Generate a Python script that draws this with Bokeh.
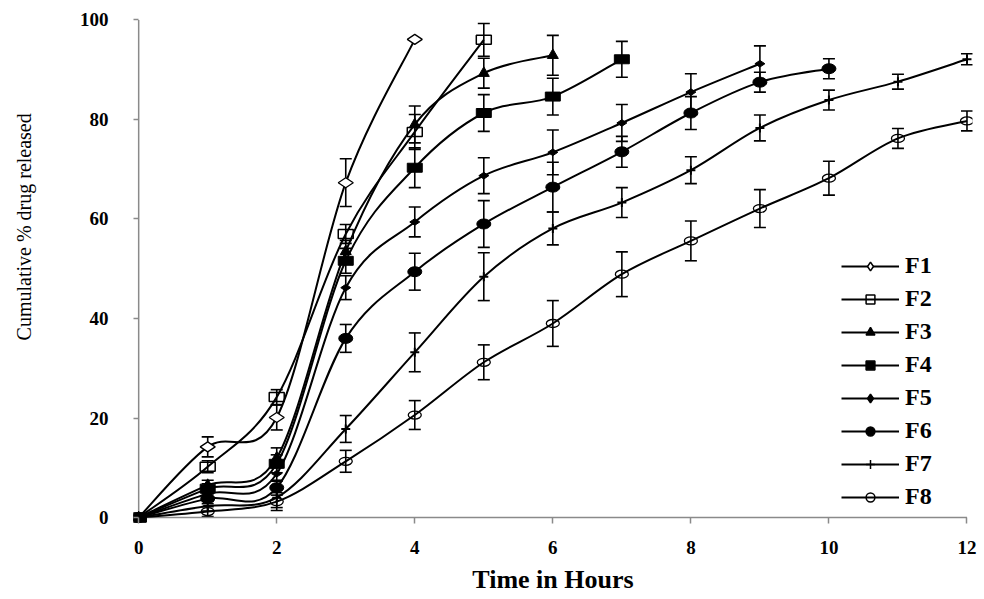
import numpy as np
from bokeh.plotting import figure
from bokeh.layouts import row
from bokeh.models import (Range1d, ColumnDataSource, Whisker, TeeHead, Legend,
                          LegendItem, Label, FixedTicker)
from bokeh.embed import file_html
from bokeh.resources import INLINE

# ---------------- data ----------------
hours = [0, 1, 2, 3, 4, 5, 6, 7, 8, 9, 10, 11, 12]
series_names = ["F1", "F2", "F3", "F4", "F5", "F6", "F7", "F8"]

f1 = [0, 14.2, 20.1, 67.3, 96.1]
f1_err = [0, 2.0, 2.5, 4.8, 0]
f2 = [0, 10.2, 24.2, 57.0, 77.5, 96.0]
f2_err = [0, 1.2, 1.5, 1.9, 3.5, 3.3]
f3 = [0, 6.5, 12.0, 53.5, 79.0, 89.3, 92.9]
f3_err = [0, 1.0, 2.0, 2.2, 3.7, 3.0, 4.0]
f4 = [0, 5.8, 10.8, 51.6, 70.3, 81.3, 84.6, 92.1]
f4_err = [0, 1.0, 1.8, 2.5, 4.0, 3.7, 3.7, 3.6]
f5 = [0, 4.8, 8.8, 46.2, 59.4, 68.7, 73.4, 79.3, 85.5, 91.2]
f5_err = [0, 1.0, 1.5, 2.4, 3.0, 3.6, 4.5, 3.7, 3.7, 3.6]
f6 = [0, 3.8, 6.0, 36.0, 49.4, 59.0, 66.4, 73.5, 81.3, 87.5, 90.2]
f6_err = [0, 1.0, 1.5, 2.8, 3.7, 4.7, 5.0, 3.1, 3.3, 2.0, 2.0]
f7 = [0, 2.3, 4.0, 17.8, 33.2, 48.4, 58.1, 63.3, 69.8, 78.3, 83.9, 87.6, 92.1]
f7_err = [0, 1.0, 2.0, 2.7, 3.9, 4.8, 3.3, 3.0, 2.7, 2.6, 2.0, 1.5, 1.1]
f8 = [0, 1.2, 3.2, 11.3, 20.6, 31.2, 39.0, 48.9, 55.6, 62.1, 68.2, 76.2, 79.7]
f8_err = [0, 1.0, 1.8, 2.2, 2.9, 3.5, 4.6, 4.5, 4.0, 3.8, 3.4, 2.0, 2.0]

x_ticks = [0, 2, 4, 6, 8, 10, 12]
y_ticks = [0, 20, 40, 60, 80, 100]
y_title = "Cumulative % drug released"
x_title = "Time in Hours"

values = [f1, f2, f3, f4, f5, f6, f7, f8]
errors = [f1_err, f2_err, f3_err, f4_err, f5_err, f6_err, f7_err, f8_err]

BLACK = "#000000"
AXIS = "#8a8a8a"
SERIF = "Liberation Serif"

H = 596
TW = 44  # width of the strip holding the vertical axis title

p = figure(width=980 - TW, height=H, output_backend="svg", toolbar_location=None,
           x_range=Range1d(-0.075, 12.08), y_range=Range1d(-1.2, 101.5),
           min_border_left=133 - TW, min_border_right=8, min_border_top=12,
           min_border_bottom=73)
p.outline_line_color = None
p.xgrid.visible = False
p.ygrid.visible = False
p.background_fill_color = "white"

# axis lines through the origin (drawn from the tick arrays)
p.segment(x0=[x_ticks[0]], y0=[y_ticks[0]], x1=[x_ticks[0]], y1=[y_ticks[-1]],
          line_color=AXIS, line_width=1.5)
p.segment(x0=[x_ticks[0]], y0=[y_ticks[0]], x1=[x_ticks[-1]], y1=[y_ticks[0]],
          line_color=AXIS, line_width=1.5)


def smooth_segments(xs, ys):
    """Bezier segments through the data points (Excel-like smoothed line)."""
    x = np.asarray(xs, float)
    y = np.asarray(ys, float)
    n = len(x)
    xp = np.concatenate([[x[0]], x, [x[-1]]])
    yp = np.concatenate([[y[0]], y, [y[-1]]])
    cx0 = x[:-1] + (xp[2:n + 1] - xp[0:n - 1]) / 6.0
    cy0 = y[:-1] + (yp[2:n + 1] - yp[0:n - 1]) / 6.0
    cx1 = x[1:] - (xp[3:n + 2] - xp[1:n]) / 6.0
    cy1 = y[1:] - (yp[3:n + 2] - yp[1:n]) / 6.0
    return dict(x0=x[:-1], y0=y[:-1], x1=x[1:], y1=y[1:],
                cx0=cx0, cy0=cy0, cx1=cx1, cy1=cy1)


# lines
for vals in values:
    t = hours[:len(vals)]
    src = ColumnDataSource(smooth_segments(t, vals))
    p.bezier(x0="x0", y0="y0", x1="x1", y1="y1", cx0="cx0", cy0="cy0",
             cx1="cx1", cy1="cy1", source=src, line_color=BLACK, line_width=2)

# error bars
for vals, errs in zip(values, errors):
    t = hours[:len(vals)]
    base = [ti for ti, e in zip(t, errs) if e > 0]
    up = [v + e for v, e in zip(vals, errs) if e > 0]
    lo = [v - e for v, e in zip(vals, errs) if e > 0]
    esrc = ColumnDataSource(dict(base=base, upper=up, lower=lo))
    w = Whisker(base="base", upper="upper", lower="lower", source=esrc,
                line_color=BLACK, line_width=1.6,
                upper_head=TeeHead(size=12, line_color=BLACK, line_width=1.6),
                lower_head=TeeHead(size=12, line_color=BLACK, line_width=1.6))
    p.add_layout(w)


def tx(vals):
    return hours[:len(vals)]


# markers
p.scatter(tx(f1), f1, marker="diamond", size=15, angle=np.pi / 2,
          fill_color="white", line_color=BLACK, line_width=1.3)
p.rect(tx(f2), f2, width=15, height=9, width_units="screen", height_units="screen",
       fill_color=None, line_color=BLACK, line_width=1.5)
p.scatter(tx(f3), f3, marker="triangle", size=11, fill_color=BLACK, line_color=BLACK)
p.rect(tx(f4), f4, width=15, height=9, width_units="screen", height_units="screen",
       fill_color=BLACK, line_color=BLACK)
p.scatter(tx(f5), f5, marker="diamond", size=10, angle=np.pi / 2,
          fill_color=BLACK, line_color=BLACK)
p.ellipse(tx(f6), f6, width=14, height=10, width_units="screen", height_units="screen",
          fill_color=BLACK, line_color=BLACK)
p.scatter(tx(f7), f7, marker="cross", size=9, line_color=BLACK, line_width=2)
p.ellipse(tx(f8), f8, width=13, height=8, width_units="screen", height_units="screen",
          fill_color=None, line_color=BLACK, line_width=1.3)

# legend (legend-only renderers)
legend_markers = [("diamond", "white"), ("square", None), ("triangle", BLACK),
                  ("square", BLACK), ("diamond", BLACK), ("circle", BLACK),
                  ("cross", BLACK), ("circle", None)]
items = []
nan = [float("nan")]
for name, (mk, fc) in zip(series_names, legend_markers):
    lr = p.line(nan, nan, line_color=BLACK, line_width=2)
    mr = p.scatter(nan, nan, marker=mk, size=9, fill_color=fc, line_color=BLACK,
                   line_width=1.5)
    items.append(LegendItem(label=name, renderers=[lr, mr]))

legend = Legend(items=items, location=(708, 13), orientation="vertical",
                glyph_width=58, glyph_height=22, label_height=22, spacing=6,
                padding=0, margin=0, label_standoff=6,
                border_line_color=None, background_fill_alpha=0,
                label_text_font=SERIF, label_text_font_style="bold",
                label_text_font_size="24px", label_text_color=BLACK)
p.add_layout(legend)

# axes
for ax, ticks in ((p.xaxis, x_ticks), (p.yaxis, y_ticks)):
    ax.ticker = FixedTicker(ticks=ticks)
    ax.minor_tick_line_color = None
    ax.axis_line_color = None
    ax.major_tick_line_color = AXIS
    ax.major_tick_line_width = 1.5
    ax.major_tick_out = 0
    ax.major_label_text_font = SERIF
    ax.major_label_text_font_style = "bold"
    ax.major_label_text_font_size = "19px"
    ax.major_label_text_color = BLACK

p.xaxis.major_tick_in = 6
p.yaxis.major_tick_in = 5
p.xaxis.major_label_standoff = 17
p.yaxis.major_label_standoff = 25
p.xaxis.axis_label = x_title
p.xaxis.axis_label_text_font = SERIF
p.xaxis.axis_label_text_font_style = "bold"
p.xaxis.axis_label_text_font_size = "26px"
p.xaxis.axis_label_text_color = BLACK
p.xaxis.axis_label_standoff = 8

# narrow strip to the left holding the vertical axis title
strip = figure(width=TW, height=H, output_backend="svg", toolbar_location=None,
               x_range=Range1d(0, TW), y_range=Range1d(H, 0),
               x_axis_location=None, y_axis_location=None,
               min_border_left=0, min_border_right=0, min_border_top=0,
               min_border_bottom=0)
strip.outline_line_color = None
strip.xgrid.visible = False
strip.ygrid.visible = False
strip.add_layout(Label(x=23, y=250, text=y_title, angle=np.pi / 2,
                       text_align="center", text_baseline="middle",
                       text_font=SERIF, text_font_size="20px", text_color=BLACK))

layout = row(strip, p, spacing=0)
open("out.html", "w").write(file_html(layout, INLINE))
